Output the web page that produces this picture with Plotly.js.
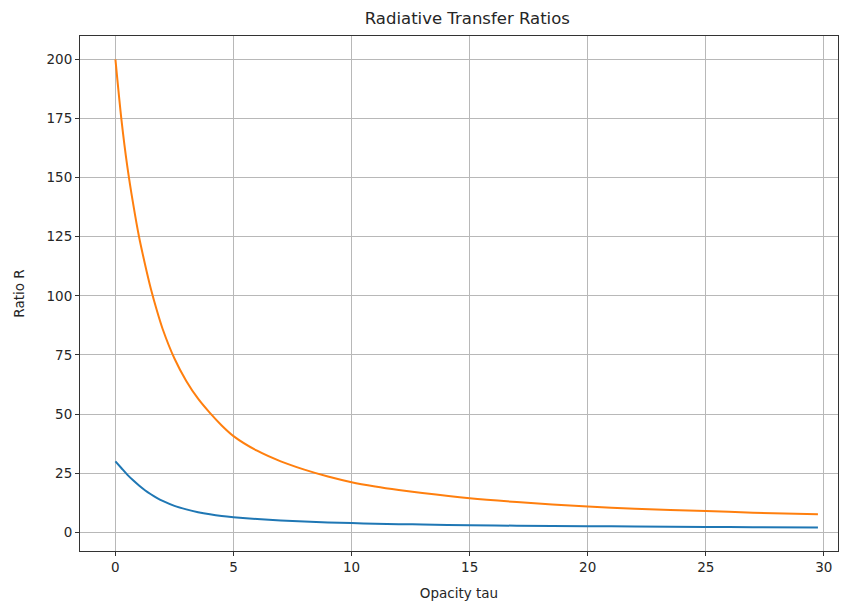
<!DOCTYPE html>
<html>
<head>
<meta charset="utf-8">
<script src="https://cdn.plot.ly/plotly-3.0.1.min.js"></script>
<style>
  html, body { margin: 0; padding: 0; background: #fff; }
  #chart { width: 841px; height: 603px; }
</style>
</head>
<body>
<div id="chart"></div>
<script>
// Opacity samples (tau) and the two ratio curves
const tauLow = [0, 0.25, 0.5, 0.75, 1, 1.25, 1.5, 1.75, 2, 2.5, 3, 3.5, 4, 4.5, 5,
                6, 7, 8, 9, 10, 11, 12, 13, 15, 17, 20, 22, 25, 27, 29.75];
const ratioLow = [30, 27.2, 24.4, 22, 19.8, 17.8, 16.1, 14.6, 13.3, 11.2, 9.7, 8.5, 7.6, 6.9, 6.4,
                  5.6, 5.0, 4.6, 4.2, 3.9, 3.65, 3.45, 3.3, 3.0, 2.8, 2.6, 2.45, 2.3, 2.15, 2.0];
const tauHigh = tauLow;
const ratioHigh = [200, 175, 155, 139, 125, 113.5, 103, 94, 86, 73.5, 64, 56.5, 50.5, 45.2, 40.7,
                   34.5, 30, 26.5, 23.6, 21.2, 19.4, 17.9, 16.6, 14.4, 12.8, 10.9, 10.0, 9.0, 8.3, 7.6];

const xTicks = [0, 5, 10, 15, 20, 25, 30];
const yTicks = [0, 25, 50, 75, 100, 125, 150, 175, 200];

const traces = [
  { x: tauLow, y: ratioLow, mode: 'lines', line: { color: '#1f77b4', width: 2, shape: 'spline', smoothing: 0.8 }, showlegend: false, hoverinfo: 'skip' },
  { x: tauHigh, y: ratioHigh, mode: 'lines', line: { color: '#ff7f0e', width: 2, shape: 'spline', smoothing: 0.8 }, showlegend: false, hoverinfo: 'skip' }
];

const font = { family: 'DejaVu Sans, sans-serif', size: 13.5, color: '#262626' };

const axisCommon = {
  showgrid: true, gridcolor: '#b8b8b8', gridwidth: 1,
  zeroline: false,
  showline: true, linecolor: '#333333', linewidth: 1, mirror: true,
  ticks: 'outside', ticklen: 4, tickwidth: 1, tickcolor: '#333333',
  tickfont: font
};

const layout = {
  width: 841, height: 603,
  margin: { l: 80, r: 3, t: 36, b: 52 },
  paper_bgcolor: '#ffffff', plot_bgcolor: '#ffffff',
  font: font,
  title: {
    text: 'Radiative Transfer Ratios',
    font: { family: 'DejaVu Sans, sans-serif', size: 16.5, color: '#262626' },
    xref: 'paper', x: 0.511, xanchor: 'center',
    yref: 'container', y: 0.97, yanchor: 'middle'
  },
  xaxis: Object.assign({}, axisCommon, {
    range: [-1.5, 30.6], tickvals: xTicks, ticktext: xTicks.map(String),
    title: { text: 'Opacity tau', font: font, standoff: 14 }
  }),
  yaxis: Object.assign({}, axisCommon, {
    range: [-7.9, 209.9], tickvals: yTicks, ticktext: yTicks.map(String),
    title: { text: 'Ratio R', font: font, standoff: 18 }
  })
};

Plotly.newPlot('chart', traces, layout, { staticPlot: true, displayModeBar: false });
</script>
</body>
</html>
